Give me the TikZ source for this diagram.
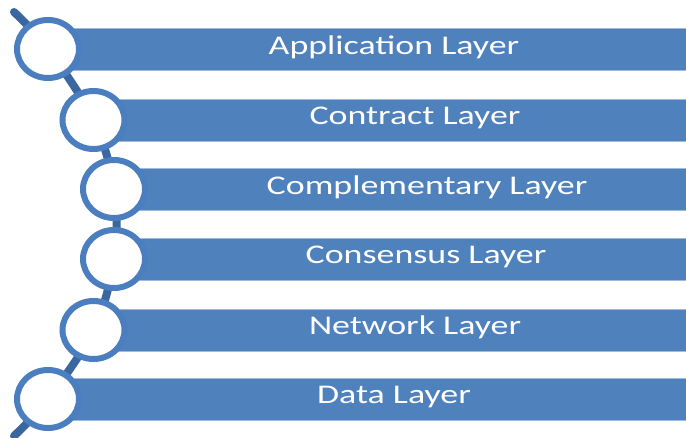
\documentclass[tikz,border=0pt]{standalone}
\usepackage{fontspec}
\setmainfont{Carlito}
\usepackage{tikz}
\usetikzlibrary{shapes.geometric}

\definecolor{barblue}{RGB}{79,129,189}
\definecolor{ringblue}{RGB}{74,126,191}
\definecolor{linkblue}{RGB}{58,103,159}

\newcommand{\lyr}[1]{\scalebox{1.33}[1]{#1}}

\tikzset{
  layerbar/.style={rectangle, fill=barblue, draw=barblue!55!white, line width=0.8pt,
    anchor=west, minimum height=42pt, inner sep=0pt},
  layertext/.style={text=white, font=\fontsize{27}{30}\selectfont, inner sep=0pt},
  ring/.style={ellipse, draw=ringblue, line width=6pt, fill=white,
    minimum width=62pt, minimum height=58pt, inner sep=0pt},
  link/.style={linkblue, line width=8pt, line cap=round}
}

\begin{document}
\begin{tikzpicture}[x=1pt, y=-1pt]
    \useasboundingbox (0, 0) rectangle (686, 438);

    % Circle centres
    \coordinate (c1) at (48, 49);
    \coordinate (c2) at (93.5, 120);
    \coordinate (c3) at (114, 189);
    \coordinate (c4) at (114, 259);
    \coordinate (c5) at (93.5, 330);
    \coordinate (c6) at (48, 399);
    \coordinate (top) at (14, 12);
    \coordinate (bot) at (14, 436);

    % Bars
    \node[layerbar, minimum width=638pt] (bar1) at (c1) {};
    \node[layerbar, minimum width=592.5pt] (bar2) at (c2) {};
    \node[layerbar, minimum width=572pt] (bar3) at (c3) {};
    \node[layerbar, minimum width=572pt] (bar4) at (c4) {};
    \node[layerbar, minimum width=592.5pt] (bar5) at (c5) {};
    \node[layerbar, minimum width=638pt] (bar6) at (c6) {};

    % Labels
    \node[layertext] (t1) at (394, 47) {\lyr{Application Layer}};
    \node[layertext] (t2) at (415, 118) {\lyr{Contract Layer}};
    \node[layertext] (t3) at (427, 187) {\lyr{Complementary Layer}};
    \node[layertext] (t4) at (426, 257) {\lyr{Consensus Layer}};
    \node[layertext] (t5) at (415, 327) {\lyr{Network Layer}};
    \node[layertext] (t6) at (394, 397) {\lyr{Data Layer}};

    % Connecting arc
    \draw[link] plot[smooth, tension=0.6] coordinates {(top) (c1) (c2) (c3) (c4) (c5) (c6) (bot)};

    % Circles
    \node[ring] (r1) at (c1) {};
    \node[ring] (r2) at (c2) {};
    \node[ring] (r3) at (c3) {};
    \node[ring] (r4) at (c4) {};
    \node[ring] (r5) at (c5) {};
    \node[ring] (r6) at (c6) {};
\end{tikzpicture}
\end{document}
